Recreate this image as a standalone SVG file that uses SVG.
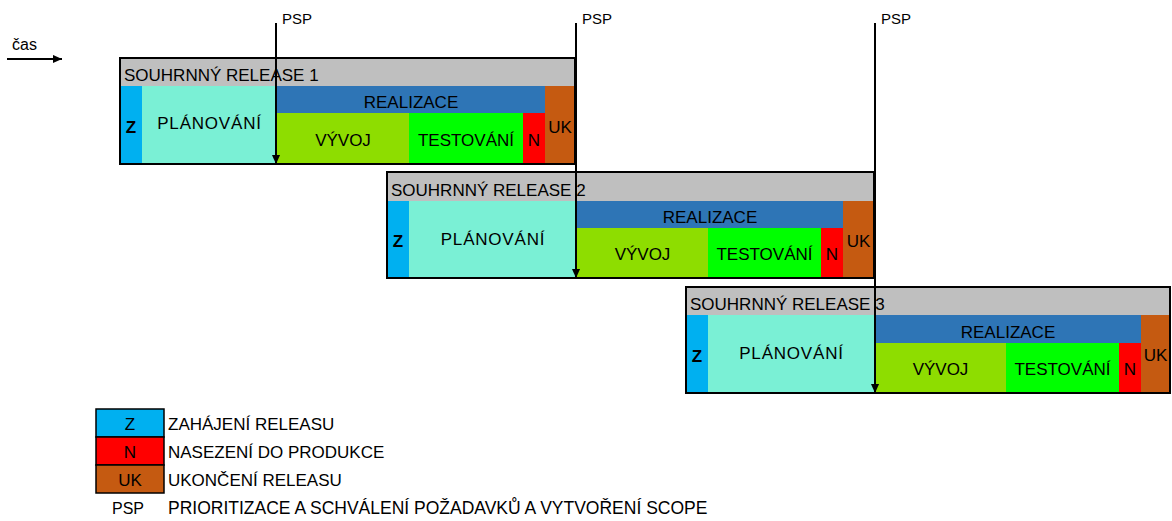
<svg xmlns="http://www.w3.org/2000/svg" width="1172" height="521" viewBox="0 0 1172 521">
<defs>
<style>
text{font-family:"Liberation Sans",Arial,sans-serif;font-size:17px;fill:#000}
.c{text-anchor:middle}
.b{font-weight:bold}
.hdr{fill:#BFBFBF}
.z{fill:#00B0F0}
.pl{fill:#7AF0D5}
.re{fill:#2E75B6}
.vy{fill:#8EDD00}
.te{fill:#00FF00}
.n{fill:#FF0000}
.uk{fill:#C55A11}
.out{fill:none;stroke:#000;stroke-width:2}
.lg{stroke:#000;stroke-width:1.5}
.psp{font-size:15px}
.conn{stroke:#000;stroke-width:2;fill:none}
</style>
<marker id="ah" viewBox="0 0 10 10" refX="10" refY="5" markerWidth="9" markerHeight="9" markerUnits="userSpaceOnUse" orient="auto">
<path d="M0,0.5 L10,5 L0,9.5 z" fill="#000"/>
</marker>
</defs>
<rect width="1172" height="521" fill="#fff"/>

<g id="release1">
<rect class="hdr" x="120" y="58" width="455" height="28"/>
<rect class="z" x="120" y="86" width="22" height="78"/>
<rect class="pl" x="142" y="86" width="135" height="78"/>
<rect class="re" x="277" y="86" width="268" height="27"/>
<rect class="vy" x="277" y="113" width="132" height="51"/>
<rect class="te" x="409" y="113" width="114" height="51"/>
<rect class="n" x="523" y="113" width="22" height="51"/>
<rect class="uk" x="545" y="86" width="30" height="78"/>
<rect class="out" x="120" y="58" width="455" height="106"/>
<text x="124" y="81">SOUHRNNÝ RELEASE 1</text>
<text class="c b" x="131" y="133">Z</text>
<text class="c" x="209.5" y="129" letter-spacing="0.8">PLÁNOVÁNÍ</text>
<text class="c" x="411" y="108">REALIZACE</text>
<text class="c" x="343" y="146">VÝVOJ</text>
<text class="c" x="466" y="146">TESTOVÁNÍ</text>
<text class="c" x="534" y="146">N</text>
<text class="c" x="560" y="133">UK</text>
</g>

<g id="release2">
<rect class="hdr" x="387" y="172" width="487" height="29"/>
<rect class="z" x="387" y="201" width="22" height="77"/>
<rect class="pl" x="409" y="201" width="168" height="77"/>
<rect class="re" x="577" y="201" width="266" height="27"/>
<rect class="vy" x="577" y="228" width="131" height="50"/>
<rect class="te" x="708" y="228" width="113" height="50"/>
<rect class="n" x="821" y="228" width="22" height="50"/>
<rect class="uk" x="843" y="201" width="31" height="77"/>
<rect class="out" x="387" y="172" width="487" height="106"/>
<text x="391" y="196">SOUHRNNÝ RELEASE 2</text>
<text class="c b" x="398" y="247">Z</text>
<text class="c" x="493" y="245" letter-spacing="0.8">PLÁNOVÁNÍ</text>
<text class="c" x="710" y="223">REALIZACE</text>
<text class="c" x="642.5" y="260">VÝVOJ</text>
<text class="c" x="764.5" y="260">TESTOVÁNÍ</text>
<text class="c" x="832" y="260">N</text>
<text class="c" x="858.5" y="247">UK</text>
</g>

<g id="release3">
<rect class="hdr" x="686" y="287" width="484" height="28"/>
<rect class="z" x="686" y="315" width="22" height="78"/>
<rect class="pl" x="708" y="315" width="167" height="78"/>
<rect class="re" x="875" y="315" width="266" height="28"/>
<rect class="vy" x="875" y="343" width="131" height="50"/>
<rect class="te" x="1006" y="343" width="113" height="50"/>
<rect class="n" x="1119" y="343" width="22" height="50"/>
<rect class="uk" x="1141" y="315" width="29" height="78"/>
<rect class="out" x="686" y="287" width="484" height="106"/>
<text x="690" y="310">SOUHRNNÝ RELEASE 3</text>
<text class="c b" x="697" y="362">Z</text>
<text class="c" x="791.5" y="359" letter-spacing="0.8">PLÁNOVÁNÍ</text>
<text class="c" x="1008" y="338">REALIZACE</text>
<text class="c" x="940.5" y="375">VÝVOJ</text>
<text class="c" x="1062.5" y="375">TESTOVÁNÍ</text>
<text class="c" x="1130" y="375">N</text>
<text class="c" x="1155.5" y="361">UK</text>
</g>

<g id="connectors">
<line class="conn" x1="7" y1="59" x2="62" y2="59" marker-end="url(#ah)"/>
<line class="conn" x1="276" y1="23" x2="276" y2="164" marker-end="url(#ah)"/>
<line class="conn" x1="576" y1="23" x2="576" y2="278" marker-end="url(#ah)"/>
<line class="conn" x1="875" y1="23" x2="875" y2="393" marker-end="url(#ah)"/>
</g>

<g id="labels">
<text x="12" y="50" style="font-size:16px">čas</text>
<text class="psp" x="282" y="24">PSP</text>
<text class="psp" x="582" y="24">PSP</text>
<text class="psp" x="881" y="24">PSP</text>
</g>

<g id="legend">
<g id="legend-z">
<rect class="z lg" x="96" y="409" width="68" height="28"/>
<text class="c" x="130" y="430">Z</text>
<text x="168" y="430">ZAHÁJENÍ RELEASU</text>
</g>
<g id="legend-n">
<rect class="n lg" x="96" y="437" width="68" height="28"/>
<text class="c" x="130" y="458">N</text>
<text x="168" y="458">NASEZENÍ DO PRODUKCE</text>
</g>
<g id="legend-uk">
<rect class="uk lg" x="96" y="465" width="68" height="28"/>
<text class="c" x="130" y="486">UK</text>
<text x="168" y="486">UKONČENÍ RELEASU</text>
</g>
<g id="legend-psp">
<text x="112" y="514" style="font-size:16px">PSP</text>
<text x="168" y="514" style="font-size:17.5px">PRIORITIZACE A SCHVÁLENÍ POŽADAVKŮ A VYTVOŘENÍ SCOPE</text>
</g>
</g>
</svg>
